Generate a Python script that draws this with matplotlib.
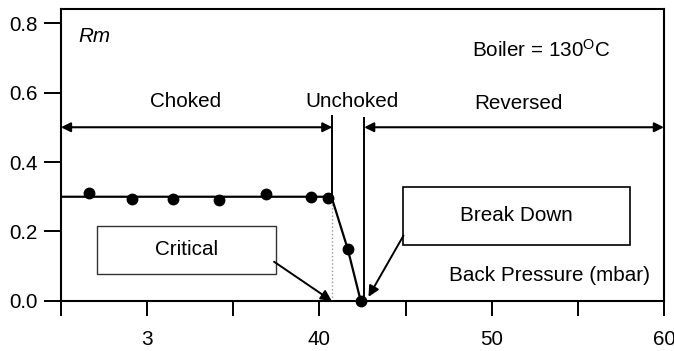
import matplotlib
matplotlib.use("Agg")
import matplotlib.pyplot as plt
from matplotlib.patches import Rectangle

plt.rcParams['font.family'] = ['Liberation Sans', 'DejaVu Sans']
plt.rcParams['mathtext.fontset'] = 'custom'
plt.rcParams['mathtext.rm'] = 'Liberation Sans'
plt.rcParams['mathtext.it'] = 'Liberation Sans:italic'

# measured Rm values against back pressure
pressure = [26.6, 29.1, 31.5, 34.2, 36.9, 39.5, 40.5, 41.65, 42.4]
rm = [0.312, 0.294, 0.294, 0.292, 0.307, 0.300, 0.296, 0.149, 0.0]

# trend line: flat choked region then the drop
trend_x = [25, 40.7, 41.65, 42.4]
trend_y = [0.3, 0.3, 0.149, 0.0]

critical_p = 40.75
breakdown_p = 42.6

xticks = [25, 30, 35, 40, 45, 50, 55, 60]
xlabels = ['', '3', '', '40', '', '50', '', '60']
yticks = [0.0, 0.2, 0.4, 0.6, 0.8]

fs = 14.9
fig = plt.figure(figsize=(6.74, 3.51), dpi=100)
ax = fig.add_axes([0.0905, 0.1425, 0.8945, 0.8315])

ax.plot(trend_x, trend_y, color='black', lw=1.6, zorder=3)
ax.plot(pressure, rm, 'o', color='black', ms=7.5, zorder=4, clip_on=False)

# critical point guide
ax.plot([critical_p - 0.03, critical_p - 0.03], [0, 0.3], color='#999999',
        lw=1, ls=':', zorder=2)

# region boundaries
ax.plot([critical_p, critical_p], [0.3, 0.532], color='black', lw=1.4)
ax.plot([breakdown_p, breakdown_p], [0, 0.526], color='black', lw=1.4)

arrow = dict(arrowstyle='<|-|>', color='black', lw=1.5,
             mutation_scale=14, shrinkA=0, shrinkB=0)
ax.annotate('', xy=(critical_p, 0.5), xytext=(25, 0.5), arrowprops=arrow)
ax.annotate('', xy=(60, 0.5), xytext=(breakdown_p, 0.5), arrowprops=arrow)

ax.text(32.26, 0.573, 'Choked', ha='center', va='center', fontsize=fs)
ax.text(41.87, 0.574, 'Unchoked', ha='center', va='center', fontsize=fs)
ax.text(51.55, 0.569, 'Reversed', ha='center', va='center', fontsize=fs)

ax.text(25.99, 0.76, 'Rm', ha='left', va='center', fontsize=fs, style='italic')
ax.text(48.85, 0.722, r'Boiler = 130$^{\mathrm{O}}$C', ha='left',
        va='center', fontsize=fs)
ax.text(59.17, 0.072, 'Back Pressure (mbar)', ha='right', va='center',
        fontsize=fs)

# callout boxes
ax.add_patch(Rectangle((27.07, 0.078), 10.43, 0.138, fill=False,
                       ec='#333333', lw=1))
ax.text(32.3, 0.147, 'Critical', ha='center', va='center', fontsize=fs)
ax.add_patch(Rectangle((44.84, 0.161), 13.2, 0.166, fill=False,
                       ec='black', lw=1.2))
ax.text(51.42, 0.245, 'Break Down', ha='center', va='center', fontsize=fs)

pointer = dict(arrowstyle='-|>', color='black', lw=1.4,
               mutation_scale=16, shrinkA=0, shrinkB=0)
ax.annotate('', xy=(40.72, 0.0), xytext=(37.37, 0.113), arrowprops=pointer)
ax.annotate('', xy=(42.85, 0.012), xytext=(44.88, 0.188), arrowprops=pointer)

ax.set_xlim(25, 60)
ax.set_ylim(0, 0.84)
ax.set_xticks(xticks)
ax.set_xticklabels(xlabels)
ax.set_yticks(yticks)
ax.set_yticklabels(['%.1f' % v for v in yticks])
ax.tick_params(axis='x', direction='out', length=11, width=1.4, pad=10,
               labelsize=fs)
ax.tick_params(axis='y', direction='out', length=12, width=1.4, pad=5,
               labelsize=fs)
for sp in ax.spines.values():
    sp.set_linewidth(1.5)

fig.savefig('out.png', dpi=100)
